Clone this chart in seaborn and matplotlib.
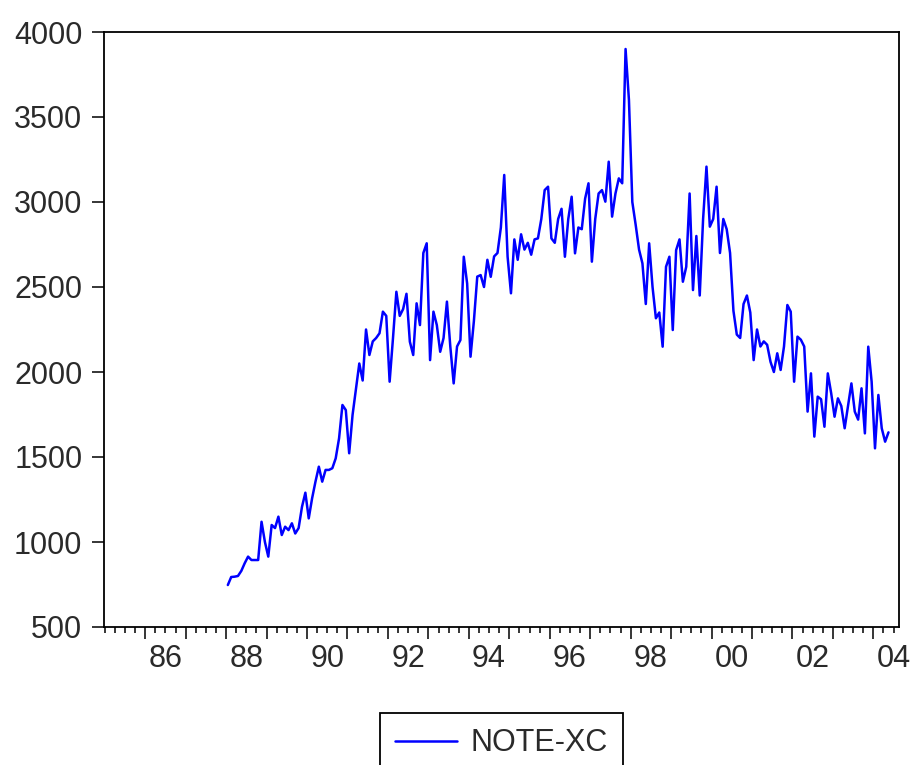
import numpy as np
import pandas as pd
import matplotlib
matplotlib.use("Agg")
import matplotlib.pyplot as plt
import seaborn as sns
from matplotlib.ticker import FixedLocator, FuncFormatter

# Monthly series, January 1988 to May 2004
series_name = "NOTE-XC"
start_month = "1988-01"

v1988 = [747, 794, 796, 800, 830, 875, 914, 894, 894, 894, 1119, 1000]
v1989 = [914, 1100, 1082, 1149, 1041, 1090, 1070, 1110, 1050, 1082, 1207, 1290]
v1990 = [1139, 1257, 1355, 1443, 1355, 1424, 1424, 1434, 1492, 1610, 1806, 1776]
v1991 = [1522, 1747, 1900, 2050, 1950, 2250, 2100, 2180, 2200, 2228, 2355, 2330]
v1992 = [1943, 2200, 2472, 2330, 2370, 2460, 2178, 2100, 2404, 2276, 2700, 2757]
v1993 = [2070, 2355, 2276, 2119, 2200, 2414, 2150, 1933, 2150, 2188, 2678, 2520]
v1994 = [2090, 2300, 2561, 2570, 2500, 2660, 2560, 2680, 2700, 2850, 3159, 2678]
v1995 = [2463, 2780, 2660, 2810, 2720, 2760, 2690, 2780, 2786, 2900, 3070, 3090]
v1996 = [2786, 2760, 2900, 2960, 2678, 2900, 3031, 2698, 2850, 2840, 3020, 3110]
v1997 = [2649, 2900, 3050, 3070, 3002, 3237, 2914, 3050, 3139, 3110, 3900, 3600]
v1998 = [3000, 2865, 2720, 2639, 2400, 2757, 2500, 2316, 2350, 2149, 2619, 2678]
v1999 = [2247, 2717, 2780, 2531, 2619, 3050, 2482, 2800, 2450, 2900, 3208, 2855]
v2000 = [2900, 3090, 2700, 2900, 2840, 2700, 2360, 2220, 2200, 2400, 2450, 2350]
v2001 = [2070, 2250, 2150, 2180, 2160, 2060, 2000, 2110, 2012, 2150, 2394, 2355]
v2002 = [1943, 2208, 2190, 2150, 1767, 1992, 1620, 1855, 1840, 1678, 1992, 1875]
v2003 = [1737, 1845, 1800, 1669, 1800, 1933, 1767, 1720, 1904, 1639, 2149, 1943]
v2004 = [1551, 1865, 1669, 1590, 1645]

y_ticks = [500, 1000, 1500, 2000, 2500, 3000, 3500, 4000]
label_years = list(range(1986, 2005, 2))

values = (v1988 + v1989 + v1990 + v1991 + v1992 + v1993 + v1994 + v1995 +
          v1996 + v1997 + v1998 + v1999 + v2000 + v2001 + v2002 + v2003 + v2004)

periods = pd.period_range(start_month, periods=len(values), freq="M")
t = periods.year + (periods.month - 0.5) / 12.0
df = pd.DataFrame({"t": np.asarray(t, dtype=float), series_name: values})

sns.set_style("ticks")
plt.rcParams["font.family"] = ["Liberation Sans", "DejaVu Sans"]
text_color = "#2a2a2a"

W, H = 914, 765
fig = plt.figure(figsize=(W / 100, H / 100), dpi=100)
ax = fig.add_axes([104 / W, 1 - 627 / H, (899 - 104) / W, (627 - 32) / H])

sns.lineplot(data=df, x="t", y=series_name, color="#0000ff", linewidth=1.8,
             ax=ax, label=series_name)

ax.set_xlim(1984.98, 2004.635)
ax.set_ylim(500, 4000)
ax.set_xlabel("")
ax.set_ylabel("")

# yearly long ticks, quarterly short ticks, two-digit labels mid-year
ax.xaxis.set_major_locator(FixedLocator(np.arange(1986, 2005, 1.0)))
ax.xaxis.set_major_formatter(FuncFormatter(lambda x, p: ""))
ax.xaxis.set_minor_locator(FixedLocator(np.arange(1985, 2004.75, 0.25)))
label_pos = {y + 0.5: f"{y % 100:02d}" for y in label_years}


def minor_fmt(x, pos):
    for k, s in label_pos.items():
        if abs(x - k) < 1e-6:
            return s
    return ""


ax.xaxis.set_minor_formatter(FuncFormatter(minor_fmt))

ax.set_yticks(y_ticks)
ax.set_yticklabels([str(v) for v in y_ticks])

ax.tick_params(axis="x", which="major", direction="out", length=8.6, width=1.1,
               color="black")
ax.tick_params(axis="x", which="minor", direction="out", length=4.3, width=1.1,
               color="black", labelsize=22, labelcolor=text_color, pad=8)
ax.tick_params(axis="y", which="major", direction="out", length=8.6, width=1.1,
               color="black", labelsize=22, labelcolor=text_color, pad=7)

for sp in ax.spines.values():
    sp.set_visible(True)
    sp.set_color("black")
    sp.set_linewidth(1.3)

leg = ax.legend(loc="upper center", bbox_to_anchor=(0.5, -0.1445),
                frameon=True, fancybox=False, edgecolor="black", framealpha=1,
                fontsize=22, handlelength=2.0, handletextpad=0.45,
                borderpad=0.5, borderaxespad=0)
leg.get_frame().set_linewidth(1.3)
for txt in leg.get_texts():
    txt.set_color(text_color)

fig.savefig("out.png", dpi=100)
